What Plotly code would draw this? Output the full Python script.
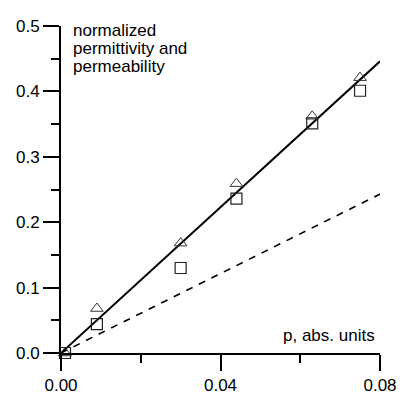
import plotly.graph_objects as go

# data
p_sq = [0.001, 0.009, 0.030, 0.044, 0.063, 0.075]
eps_sq = [0.0, 0.044, 0.130, 0.236, 0.351, 0.401]
p_tr = [0.001, 0.009, 0.030, 0.044, 0.063, 0.075]
mu_tr = [0.0, 0.068, 0.168, 0.259, 0.362, 0.421]
fit_x = [0.0, 0.08]
fit_solid = [0.0, 0.446]
fit_dash = [0.0, 0.243]
y_label_lines = ["normalized", "permittivity and", "permeability"]
x_label = "p, abs. units"

FONT = "Liberation Sans, Arial, sans-serif"
T = 26
B = 42
PH = 395 - T - B

fig = go.Figure()
fig.add_trace(go.Scatter(x=fit_x, y=fit_solid, mode="lines",
                         line=dict(color="black", width=2), hoverinfo="skip"))
fig.add_trace(go.Scatter(x=fit_x, y=fit_dash, mode="lines",
                         line=dict(color="black", width=1.6, dash="7px,7px"), hoverinfo="skip"))
fig.add_trace(go.Scatter(x=p_tr, y=mu_tr, mode="markers", cliponaxis=False,
                         marker=dict(symbol="triangle-up-open", size=11,
                                     color="#333", line=dict(width=1, color="#333"))))
fig.add_trace(go.Scatter(x=p_sq, y=eps_sq, mode="markers", cliponaxis=False,
                         marker=dict(symbol="square-open", size=11,
                                     color="#222", line=dict(width=1.2, color="#222"))))

fig.update_layout(
    width=400, height=395,
    margin=dict(l=61, r=20, t=T, b=B, pad=0),
    plot_bgcolor="white", paper_bgcolor="white",
    showlegend=False,
    font=dict(family=FONT, size=17, color="black"),
    xaxis=dict(range=[0, 0.08], showline=True, linecolor="black", linewidth=2,
               automargin=False,
               ticks="outside", tickvals=[0, 0.04, 0.08], ticktext=["0.00", "0.04", "0.08"],
               ticklen=16, tickwidth=2, tickcolor="black",
               minor=dict(tickvals=[0.02, 0.06], ticks="outside", ticklen=8, tickwidth=2, tickcolor="black"),
               showgrid=False, zeroline=False, tickfont=dict(size=17)),
    yaxis=dict(range=[0, 0.5], showline=True, linecolor="black", linewidth=2,
               automargin=False,
               ticks="outside", tickvals=[0, 0.1, 0.2, 0.3, 0.4, 0.5],
               ticktext=["0.0", "0.1", "0.2", "0.3", "0.4", "0.5"],
               ticklen=16, tickwidth=2, tickcolor="black",
               minor=dict(tickvals=[0.05, 0.15, 0.25, 0.35, 0.45], ticks="outside", ticklen=8, tickwidth=2, tickcolor="black"),
               showgrid=False, zeroline=False, tickfont=dict(size=17)),
)

# y-label lines: baselines at ~37, 55.5, 74 px from top
for i, line in enumerate(y_label_lines):
    base_px = 37.5 + 18.4 * i
    fig.add_annotation(text=line, xref="paper", yref="paper",
                       x=(71 - 61) / 319, y=(395 - B - base_px) / PH,
                       xanchor="left", yanchor="bottom", yshift=-4,
                       showarrow=False, align="left", font=dict(size=17))
fig.add_annotation(text=x_label, xref="paper", yref="paper", x=(377 - 61) / 319,
                   y=(395 - B - 342.7) / PH, xanchor="right", yanchor="bottom", yshift=-4,
                   showarrow=False, font=dict(size=17))

fig.write_html("out.html")
